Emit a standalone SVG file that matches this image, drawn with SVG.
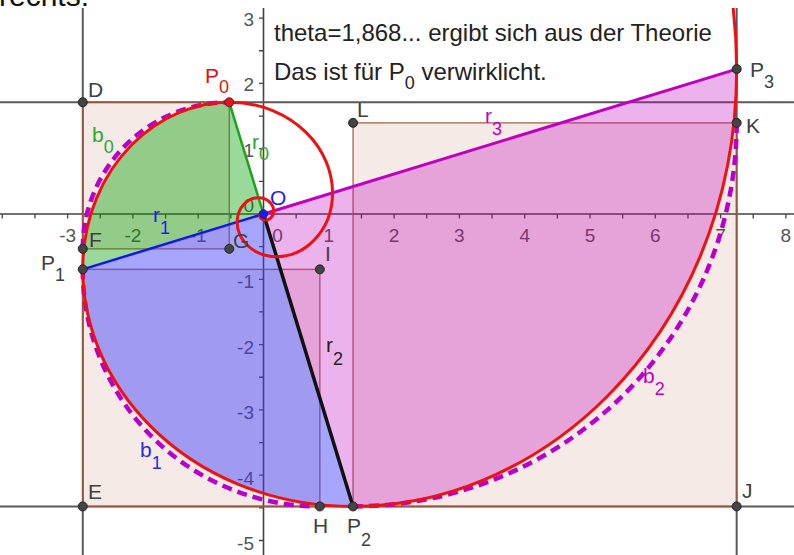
<svg xmlns="http://www.w3.org/2000/svg" xmlns:xlink="http://www.w3.org/1999/xlink" width="794" height="555" viewBox="0 0 794 555">
<style>
text{font-family:"Liberation Sans",Arial,Helvetica,sans-serif}
.ax{font-size:19px;fill:#555}
.axl{stroke:#444;stroke-width:1.6;fill:none}
.tick{stroke:#444;stroke-width:1.3;fill:none}
.gl{stroke:#5a5a5a;stroke-width:2;fill:none}
.sq{fill:#993300;fill-opacity:0.1;stroke:#a35a3c;stroke-opacity:0.8;stroke-width:1.5}
.arc{fill:none;stroke:#b800cc;stroke-width:4.5;stroke-dasharray:10 6}
.sp{fill:none;stroke:#ee1111;stroke-width:3;vector-effect:non-scaling-stroke;stroke-linejoin:round}
.pt{fill:#444;stroke:#222;stroke-width:1}
.lbl{font-size:21px;fill:#404040}
.sub{font-size:18px}
.txt{font-size:24px;fill:#222}
</style>
<defs>
<clipPath id="plot"><rect x="0" y="8" width="794" height="547"/></clipPath>
<path id="seg" class="sp" d="M1,0 C1.081249,0.265216 1.064921,0.587822 0.89945,0.89945 C0.733979,1.211078 0.429128,1.486568 0,1.61803"/>
<path id="sector" d="M0,0 L1,0 C1.081249,0.265216 1.064921,0.587822 0.89945,0.89945 C0.733979,1.211078 0.429128,1.486568 0,1.61803 Z"/>
</defs>
<rect width="794" height="555" fill="#fff"/>
<text x="-1" y="6" font-size="30" fill="#111">rechts:</text>
<g clip-path="url(#plot)">
<g id="axes">
<path class="axl" d="M0,214H794M263.5,8V555"/>
<path class="tick" d="M2.3,214v4.5M34.95,214v4.5M67.6,214v4.5M100.25,214v4.5M132.9,214v4.5M165.55,214v4.5M198.2,214v4.5M230.85,214v4.5M296.15,214v4.5M328.8,214v4.5M361.45,214v4.5M394.1,214v4.5M426.75,214v4.5M459.4,214v4.5M492.05,214v4.5M524.7,214v4.5M557.35,214v4.5M590,214v4.5M622.65,214v4.5M655.3,214v4.5M687.95,214v4.5M720.6,214v4.5M753.25,214v4.5M785.9,214v4.5M263.5,18.1h-4.5M263.5,50.75h-4.5M263.5,83.4h-4.5M263.5,116.05h-4.5M263.5,148.7h-4.5M263.5,181.35h-4.5M263.5,246.65h-4.5M263.5,279.3h-4.5M263.5,311.95h-4.5M263.5,344.6h-4.5M263.5,377.25h-4.5M263.5,409.9h-4.5M263.5,442.55h-4.5M263.5,475.2h-4.5M263.5,507.85h-4.5M263.5,540.5h-4.5"/>
<g class="ax" text-anchor="middle">
<text x="67.6" y="242">-3</text><text x="132.9" y="242">-2</text><text x="198.2" y="242">-1</text><text x="277.5" y="242">0</text><text x="328.8" y="242">1</text><text x="394.1" y="242">2</text><text x="459.4" y="242">3</text><text x="524.7" y="242">4</text><text x="590" y="242">5</text><text x="655.3" y="242">6</text><text x="720.6" y="242">7</text><text x="785.9" y="242">8</text>
</g>
<g class="ax" text-anchor="end">
<text x="254" y="26">3</text><text x="254" y="91">2</text><text x="254" y="157">1</text><text x="254" y="212">0</text><text x="254" y="288">-1</text><text x="254" y="354">-2</text><text x="254" y="419">-3</text><text x="254" y="485">-4</text><text x="254" y="550">-5</text>
</g>
</g>
<g id="lines">
<path class="gl" d="M0,102.3H794M0,506.44H794M82.76,8V555M736.67,8V555"/>
</g>
<g id="squares">
<rect id="sq0" class="sq" x="82.76" y="102.3" width="146.53" height="146.53"/>
<rect id="sq1" class="sq" x="82.76" y="269.36" width="237.08" height="237.08"/>
<rect id="sq2" class="sq" x="353.07" y="122.84" width="383.6" height="383.6"/>
</g>
<g id="sectors" transform="translate(263.5,214) scale(65.3,-65.3)">
<use xlink:href="#sector" href="#sector" fill="#00a000" fill-opacity="0.4" transform="rotate(107.03) scale(1.789)"/>
<use xlink:href="#sector" href="#sector" fill="#3a3aff" fill-opacity="0.45" transform="rotate(197.03) scale(2.89466)"/>
<use xlink:href="#sector" href="#sector" fill="#c000c0" fill-opacity="0.3" transform="rotate(287.03) scale(4.68366)"/>
</g>
<g id="arcs">
<path id="b0" class="arc" d="M82.76,248.83A146.53,146.53 0 0 1 229.29,102.3"/>
<path id="b1" class="arc" d="M82.76,269.36A237.08,237.08 0 0 0 319.84,506.44"/>
<path id="b2" class="arc" d="M353.07,506.44A383.6,383.6 0 0 0 736.67,122.84"/>
</g>
<g id="connectors">
<line id="r0" x1="263.5" y1="214" x2="229.29" y2="102.3" stroke="#1fa01f" stroke-width="2.5"/>
<line id="r1" x1="263.5" y1="214" x2="82.76" y2="269.36" stroke="#1414ee" stroke-width="2.5"/>
<line id="r2" x1="263.5" y1="214" x2="353.07" y2="506.44" stroke="#111" stroke-width="3.5"/>
<line id="r3" x1="263.5" y1="214" x2="736.67" y2="69.07" stroke="#c000c0" stroke-width="3"/>
</g>
<g id="spiral" transform="translate(263.5,214) scale(65.3,-65.3)">
<use xlink:href="#seg" href="#seg" transform="rotate(-612.97) scale(0.03808)"/>
<use xlink:href="#seg" href="#seg" transform="rotate(-522.97) scale(0.06162)"/>
<use xlink:href="#seg" href="#seg" transform="rotate(-432.97) scale(0.0997)"/>
<use xlink:href="#seg" href="#seg" transform="rotate(-342.97) scale(0.16131)"/>
<use xlink:href="#seg" href="#seg" transform="rotate(-252.97) scale(0.26101)"/>
<use xlink:href="#seg" href="#seg" transform="rotate(-162.97) scale(0.42233)"/>
<use xlink:href="#seg" href="#seg" transform="rotate(-72.97) scale(0.68334)"/>
<use xlink:href="#seg" href="#seg" transform="rotate(17.03) scale(1.10566)"/>
<use xlink:href="#seg" href="#seg" transform="rotate(107.03) scale(1.789)"/>
<use xlink:href="#seg" href="#seg" transform="rotate(197.03) scale(2.89466)"/>
<use xlink:href="#seg" href="#seg" transform="rotate(287.03) scale(4.68366)"/>
<use xlink:href="#seg" href="#seg" transform="rotate(17.03) scale(7.57833)"/>
</g>
<g id="points">
<circle id="D" class="pt" cx="82.76" cy="102.3" r="4.5"/>
<circle id="P0" cx="229.29" cy="102.3" r="4.5" fill="#ee1111" stroke="#333" stroke-width="1"/>
<circle id="F" class="pt" cx="82.76" cy="248.83" r="4.5"/>
<circle id="G" class="pt" cx="229.29" cy="248.83" r="4.5"/>
<circle id="P1" class="pt" cx="82.76" cy="269.36" r="4.5"/>
<circle id="I" class="pt" cx="319.84" cy="269.36" r="4.5"/>
<circle id="H" class="pt" cx="319.84" cy="506.44" r="4.5"/>
<circle id="E" class="pt" cx="82.76" cy="506.44" r="4.5"/>
<circle id="P2" class="pt" cx="353.07" cy="506.44" r="4.5"/>
<circle id="L" class="pt" cx="353.07" cy="122.84" r="4.5"/>
<circle id="K" class="pt" cx="736.67" cy="122.84" r="4.5"/>
<circle id="P3" class="pt" cx="736.67" cy="69.07" r="4.5"/>
<circle id="J" class="pt" cx="736.67" cy="506.44" r="4.5"/>
<circle id="O" cx="263.5" cy="214" r="4.2" fill="#1a1aee" stroke="#1a1a99" stroke-width="1"/>
</g>
<g id="labels">
<text class="lbl" x="88" y="97">D</text>
<text class="lbl" x="205" y="83" style="fill:#e01010">P<tspan class="sub" dy="10">0</tspan></text>
<text class="lbl" x="92" y="142" style="fill:#2aa82a">b<tspan class="sub" dy="11">0</tspan></text>
<text class="lbl" x="252" y="149" style="fill:#2aa82a">r<tspan class="sub" dy="11">0</tspan></text>
<text class="lbl" x="270" y="205" style="fill:#1f1fe0">O</text>
<text class="lbl" x="153" y="222" style="fill:#1f1fe0">r<tspan class="sub" dy="12">1</tspan></text>
<text class="lbl" x="89" y="247">F</text>
<text class="lbl" x="233" y="248">G</text>
<text class="lbl" x="41" y="270">P<tspan class="sub" dy="11">1</tspan></text>
<text class="lbl" x="325" y="261">I</text>
<text class="lbl" x="357" y="117">L</text>
<text class="lbl" x="746" y="133">K</text>
<text class="lbl" x="750" y="77">P<tspan class="sub" dy="11">3</tspan></text>
<text class="lbl" x="485" y="123" style="fill:#c000c0">r<tspan class="sub" dy="12">3</tspan></text>
<text class="lbl" x="326" y="352" style="fill:#222">r<tspan class="sub" dy="13">2</tspan></text>
<text class="lbl" x="643" y="383" style="fill:#c000c0">b<tspan class="sub" dy="12">2</tspan></text>
<text class="lbl" x="140" y="457" style="fill:#2a2ae0">b<tspan class="sub" dy="12">1</tspan></text>
<text class="lbl" x="88" y="499">E</text>
<text class="lbl" x="313" y="533">H</text>
<text class="lbl" x="347" y="533">P<tspan class="sub" dy="13">2</tspan></text>
<text class="lbl" x="742" y="498">J</text>
</g>
<g id="note" class="txt">
<text x="274" y="41">theta=1,868... ergibt sich aus der Theorie</text>
<text x="274" y="80">Das ist für P<tspan class="sub" dy="9">0</tspan><tspan dy="-9"> verwirklicht.</tspan></text>
</g>
</g>
</svg>
